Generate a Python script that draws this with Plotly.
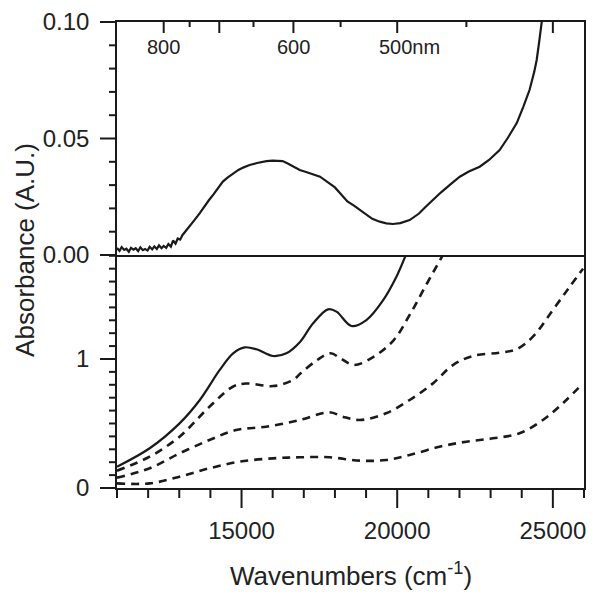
import numpy as np
import plotly.graph_objects as go

# ---- data ----
top_x = [11000, 11080, 11150, 11230, 11300, 11380, 11450, 11530, 11600, 11680, 11750, 11830,
         11900, 11980, 12050, 12130, 12200, 12280, 12350, 12430, 12500, 12580, 12650, 12730,
         12800, 12880, 12950, 13030, 13100, 13240, 13400,
         13500, 13660, 13800, 13950, 14100, 14200, 14400, 14550, 14720, 14900, 15050, 15260,
         15500, 15800, 16000, 16200, 16320, 16500, 16700, 16870, 17100, 17300, 17520, 17800,
         18000, 18160, 18400, 18600, 18800, 19000, 19200, 19440, 19650, 19860, 20100, 20400,
         20700, 20900, 21140, 21400, 21700, 22010, 22300, 22650, 22950, 23290, 23550, 23840,
         24050, 24250, 24400, 24480, 24560, 24630, 24700]
top_y = [0.0030, 0.0018, 0.0034, 0.0022, 0.0027, 0.0014, 0.0031, 0.0023, 0.0029, 0.0017, 0.0033, 0.0021,
         0.0026, 0.0019, 0.0035, 0.0024, 0.0037, 0.0026, 0.0041, 0.0029, 0.0039, 0.0031, 0.0047, 0.0036,
         0.0062, 0.0049, 0.0071, 0.0066, 0.0085, 0.0107, 0.0135,
         0.0152, 0.0180, 0.0208, 0.0235, 0.0260, 0.0280, 0.0315, 0.0332, 0.0350, 0.0365, 0.0375, 0.0386,
         0.0395, 0.0403, 0.0405, 0.0402, 0.0403, 0.0392, 0.0378, 0.0365, 0.0355, 0.0345, 0.0336, 0.0310,
         0.0290, 0.0266, 0.0230, 0.0213, 0.0193, 0.0172, 0.0155, 0.0143, 0.0136, 0.0133, 0.0137, 0.0150,
         0.0178, 0.0205, 0.0236, 0.0268, 0.0302, 0.0336, 0.0358, 0.0379, 0.0408, 0.0450, 0.0502, 0.0566,
         0.0636, 0.0708, 0.0785, 0.0837, 0.0915, 0.0996, 0.1060]

s1_x = [11000, 12050, 13010, 13660, 14300, 14730, 15100, 15480, 16010, 16440, 16870, 17300,
        17780, 18050, 18530, 19010, 19550, 19975, 20300]
s1_y = [0.165, 0.308, 0.501, 0.682, 0.915, 1.044, 1.090, 1.075, 1.023, 1.044, 1.130, 1.277,
        1.385, 1.367, 1.256, 1.302, 1.457, 1.638, 1.820]

s2_x = [11000, 12050, 13010, 13970, 14720, 15150, 16010, 16650, 16900, 17430, 17860, 18180,
        18610, 19250, 19890, 20430, 20960, 21500]
s2_y = [0.134, 0.243, 0.398, 0.630, 0.785, 0.810, 0.790, 0.837, 0.889, 0.992, 1.044, 1.005,
        0.953, 1.018, 1.147, 1.354, 1.587, 1.820]

s3_x = [11000, 12050, 13010, 13970, 14830, 15790, 16870, 17830, 18250, 18790, 19640, 20400,
        21150, 21790, 22430, 23290, 23830, 24360, 25000, 25540, 25970]
s3_y = [0.080, 0.153, 0.269, 0.372, 0.450, 0.475, 0.527, 0.587, 0.553, 0.527, 0.579, 0.682,
        0.811, 0.953, 1.023, 1.049, 1.075, 1.173, 1.380, 1.560, 1.700]

s4_x = [11000, 12050, 13010, 13970, 14940, 16010, 16870, 17830, 18790, 19640, 20400, 21360,
        22220, 23080, 23930, 24680, 25320, 25970]
s4_y = [0.036, 0.036, 0.088, 0.153, 0.204, 0.230, 0.238, 0.238, 0.212, 0.217, 0.256, 0.320,
        0.359, 0.385, 0.424, 0.527, 0.657, 0.811]

nm_major = [800, 700, 600, 500, 400]
nm_minor = [750, 650, 550, 450]
nm_labels = ["800", "600", "500nm"]
nm_label_pos = [800, 600, 500]

# ---- figure ----
INK = "#1a1a1a"
FONT = "Liberation Sans, Arial, sans-serif"
X_RANGE = [11000, 26000]
YB_RANGE = [0, 1.806]
YT_RANGE = [0, 0.10]
W, H = 593, 588
ML, MR, MT, MB = 109, 17, 14, 108
PW, PH = W - ML - MR, H - MT - MB

fig = go.Figure()
fig.add_trace(go.Scatter(x=top_x, y=top_y, mode="lines", xaxis="x2", yaxis="y2",
                         line=dict(color=INK, width=2.2), showlegend=False, cliponaxis=True))
fig.add_trace(go.Scatter(x=s1_x, y=s1_y, mode="lines", line=dict(color=INK, width=2.2, shape="spline"),
                         showlegend=False))
for xs, ys in [(s2_x, s2_y), (s3_x, s3_y), (s4_x, s4_y)]:
    fig.add_trace(go.Scatter(x=xs, y=ys, mode="lines",
                             line=dict(color=INK, width=2.6, dash="8px,6px", shape="spline"),
                             showlegend=False))

tickfont = dict(family=FONT, size=24, color="#222")
CLEAR = "rgba(0,0,0,0)"

fig.update_layout(
    width=W, height=H,
    margin=dict(l=ML, r=MR, t=MT, b=MB),
    plot_bgcolor="white",
    xaxis=dict(domain=[0, 1], anchor="y", range=X_RANGE, dtick=5000, tickformat="d",
               ticks="outside", ticklen=20, tickcolor=CLEAR,
               showline=True, linecolor=INK, linewidth=1.6, showgrid=False, zeroline=False,
               automargin=False, tickfont=tickfont),
    yaxis=dict(domain=[0, 0.5], anchor="x", range=YB_RANGE, dtick=1,
               ticks="outside", ticklen=21, tickcolor=CLEAR,
               showline=True, linecolor=INK, linewidth=1.6, mirror=True, showgrid=False,
               zeroline=False, automargin=False, tickfont=tickfont),
    xaxis2=dict(domain=[0, 1], anchor="y2", matches="x", side="top", showticklabels=False,
                ticks="", showline=True, linecolor=INK, linewidth=1.6, mirror=True,
                showgrid=False, zeroline=False, automargin=False),
    yaxis2=dict(domain=[0.5, 1], anchor="x2", range=YT_RANGE, dtick=0.05, tickformat=".2f",
                ticks="outside", ticklen=21, tickcolor=CLEAR,
                showline=True, linecolor=INK, linewidth=1.6, mirror=True, showgrid=False,
                zeroline=False, automargin=False, tickfont=tickfont),
)

# tick marks drawn as paper-referenced lines (positions derived from the axis ranges)
def px_x(v):
    return (v - X_RANGE[0]) / (X_RANGE[1] - X_RANGE[0])

def tick(x0, y0, x1, y1):
    fig.add_shape(type="line", xref="paper", yref="paper", x0=x0, y0=y0, x1=x1, y1=y1,
                  line=dict(color=INK, width=2), layer="above")

for v in np.arange(X_RANGE[0], X_RANGE[1] + 1, 1000):
    L = 20 if v % 5000 == 0 else 10
    tick(px_x(v), 0, px_x(v), -L / PH)

for v in np.round(np.arange(0, 1.8001, 0.1), 3):
    y = v / YB_RANGE[1] * 0.5
    L = 17 if abs(v - round(v)) < 1e-9 else 8
    tick(0, y, -L / PW, y)

for v in np.round(np.arange(0, 0.1001, 0.01), 4):
    y = 0.5 + v / YT_RANGE[1] * 0.5
    L = 17 if abs(v / 0.05 - round(v / 0.05)) < 1e-9 else 8
    tick(0, y, -L / PW, y)

for nm in nm_major:
    x = px_x(1e7 / nm)
    tick(x, 1, x, 1 - 11 / PH)
for nm in nm_minor:
    x = px_x(1e7 / nm)
    tick(x, 1, x, 1 - 5 / PH)

for lab, nm in zip(nm_labels, nm_label_pos):
    if lab.endswith("nm"):
        fig.add_annotation(x=1e7 / nm - 640, y=0.947, xref="x2", yref="paper", text=lab,
                           showarrow=False, xanchor="left", yanchor="middle",
                           font=dict(family=FONT, size=20, color="#222"))
    else:
        fig.add_annotation(x=1e7 / nm, y=0.947, xref="x2", yref="paper", text=lab,
                           showarrow=False, xanchor="center", yanchor="middle",
                           font=dict(family=FONT, size=20, color="#222"))

fig.add_annotation(x=-0.197, y=0.511, xref="paper", yref="paper", text="Absorbance (A.U.)",
                   textangle=-90, showarrow=False, xanchor="center", yanchor="middle",
                   font=dict(family=FONT, size=26, color="#222"))
fig.add_annotation(x=0.5, y=-0.185, xref="paper", yref="paper",
                   text="Wavenumbers (cm<sup>-1</sup>)",
                   showarrow=False, xanchor="center", yanchor="middle",
                   font=dict(family=FONT, size=26, color="#222"))

fig.write_html("out.html")
